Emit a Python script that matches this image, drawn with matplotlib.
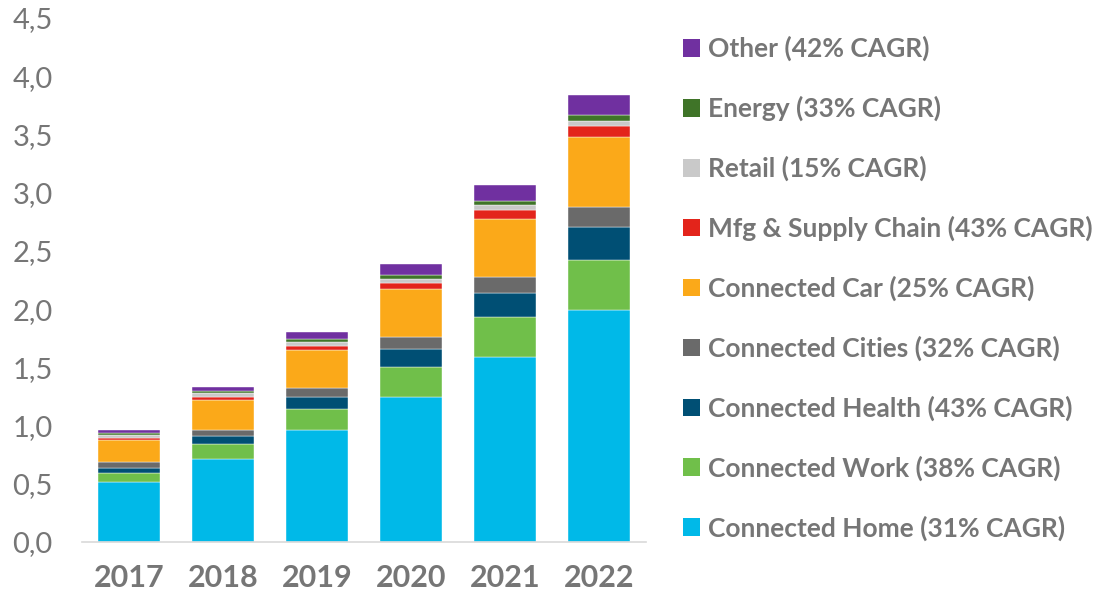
import matplotlib.pyplot as plt
from matplotlib.patches import Patch

plt.rcParams['font.family'] = ['Lato', 'DejaVu Sans']

years = ['2017', '2018', '2019', '2020', '2021', '2022']

# values, bottom segment first
connected_home = [0.513, 0.713, 0.962, 1.248, 1.587, 1.996]
connected_work = [0.080, 0.129, 0.180, 0.255, 0.346, 0.424]
connected_health = [0.046, 0.069, 0.106, 0.157, 0.209, 0.289]
connected_cities = [0.049, 0.050, 0.075, 0.097, 0.132, 0.172]
connected_car = [0.189, 0.261, 0.326, 0.412, 0.501, 0.593]
mfg_supply = [0.017, 0.022, 0.034, 0.052, 0.077, 0.098]
retail = [0.028, 0.034, 0.037, 0.040, 0.040, 0.046]
energy = [0.017, 0.015, 0.023, 0.028, 0.037, 0.049]
other = [0.023, 0.040, 0.063, 0.098, 0.137, 0.175]

labels = ['Connected Home (31% CAGR)', 'Connected Work (38% CAGR)',
          'Connected Health (43% CAGR)', 'Connected Cities (32% CAGR)',
          'Connected Car (25% CAGR)', 'Mfg & Supply Chain (43% CAGR)',
          'Retail (15% CAGR)', 'Energy (33% CAGR)', 'Other (42% CAGR)']
series = [connected_home, connected_work, connected_health, connected_cities,
          connected_car, mfg_supply, retail, energy, other]
colors = ['#00B9E8', '#70BF4A', '#004F74', '#6A6A6A', '#FBA919',
          '#E3241B', '#C9C9C9', '#3F7428', '#7030A0']

fig = plt.figure(figsize=(10.99, 5.93), dpi=100)
ax = fig.add_axes([0.0746, 0.086, 0.5133, 0.8836])

x = range(len(years))
bottom = [0.0] * len(years)
for vals, col, lab in zip(series, colors, labels):
    ax.bar(x, vals, width=0.66, bottom=bottom, color=col, label=lab,
           edgecolor='white', linewidth=0.3)
    bottom = [b + v for b, v in zip(bottom, vals)]

ax.set_xlim(-0.5, 5.5)
ax.set_ylim(0, 4.5)
ax.set_yticks([i * 0.5 for i in range(10)])
ax.set_yticklabels([f'{i * 0.5:.1f}'.replace('.', ',') for i in range(10)],
                   fontsize=21, color='#767676')
ax.set_xticks(list(x))
ax.set_xticklabels(years, fontsize=22, fontweight='bold', color='#767676')
ax.tick_params(axis='both', length=0)
ax.tick_params(axis='y', pad=21)
ax.tick_params(axis='x', pad=16)
for s in ['top', 'right', 'left']:
    ax.spines[s].set_visible(False)
ax.spines['bottom'].set_color('#D9D9D9')
ax.spines['bottom'].set_linewidth(1.2)

handles = [Patch(facecolor=c, edgecolor='none') for c in colors][::-1]
leg = fig.legend(handles, labels[::-1], loc='upper left',
                 bbox_to_anchor=(0.612, 0.957), frameon=False,
                 handlelength=0.65, handleheight=0.65, handletextpad=0.3,
                 labelspacing=1.31, borderaxespad=0,
                 prop={'size': 19, 'weight': 'bold'})
for t in leg.get_texts():
    t.set_color('#767676')

fig.savefig('out.png', dpi=100)
